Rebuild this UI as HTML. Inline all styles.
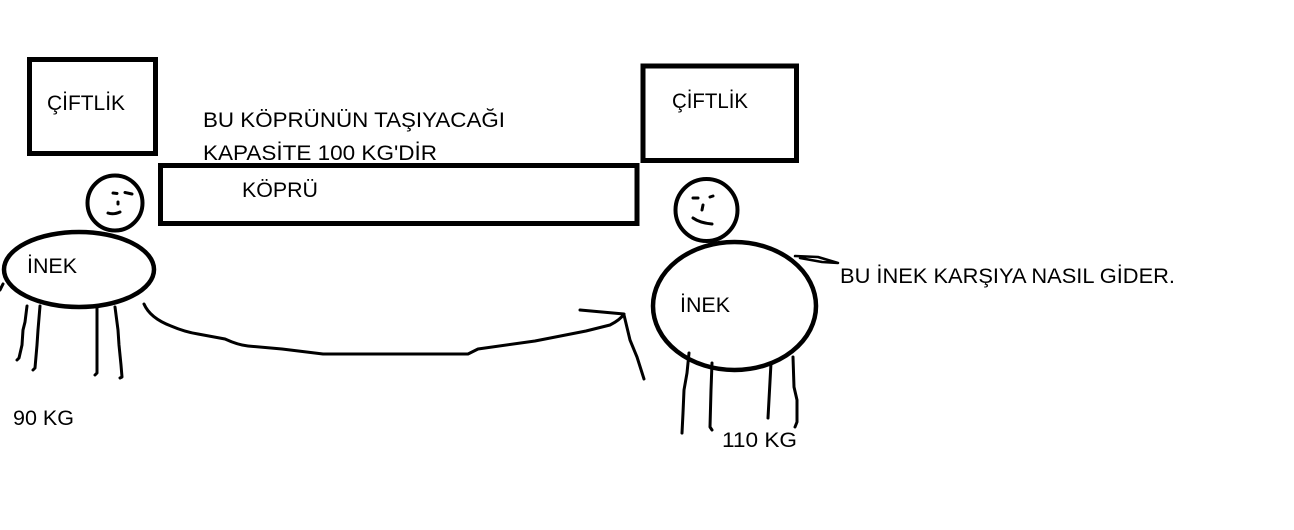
<!DOCTYPE html>
<html>
<head>
<meta charset="utf-8">
<style>
html,body{margin:0;padding:0;background:#fff;}
body{width:1294px;height:530px;overflow:hidden;}
svg{display:block;}
text{font-family:"Liberation Sans","DejaVu Sans",sans-serif;font-size:21px;fill:#000;}
</style>
</head>
<body>
<svg width="1294" height="530" viewBox="0 0 1294 530" xmlns="http://www.w3.org/2000/svg">
  <rect x="0" y="0" width="1294" height="530" fill="#fff"/>
  <g fill="none" stroke="#000" stroke-linecap="round" stroke-linejoin="round">
    <!-- left farm box -->
    <rect x="29.5" y="59.5" width="126" height="94" stroke-width="5" stroke-linecap="butt" stroke-linejoin="miter"/>
    <!-- bridge -->
    <rect x="160.5" y="165.5" width="476.5" height="58" stroke-width="5" stroke-linecap="butt" stroke-linejoin="miter"/>
    <!-- right farm box -->
    <rect x="643" y="66" width="153.5" height="94.5" stroke-width="5" stroke-linecap="butt" stroke-linejoin="miter"/>

    <!-- left head -->
    <circle cx="115" cy="203" r="27.5" stroke-width="4"/>
    <path d="M113 193 L117 193.5" stroke-width="3"/>
    <path d="M125 192.5 L132 194" stroke-width="3"/>
    <path d="M118 202 L118 204" stroke-width="3"/>
    <path d="M108 213 Q113 215 120 212" stroke-width="3"/>
    <!-- left body -->
    <ellipse cx="79" cy="269.5" rx="75" ry="37.5" stroke-width="4.5"/>
    <path d="M0 290 L3 284" stroke-width="3"/>
    <!-- left legs -->
    <path d="M27 306 L25 322 L23 330 L22 345 L19 358 L17 360" stroke-width="3"/>
    <path d="M40 306 L38 330 L37 345 L35 368 L33 370" stroke-width="3"/>
    <path d="M97 308 L97 373 L95 375" stroke-width="3"/>
    <path d="M115 307 L118 330 L119 345 L121 365 L122 377 L120 378" stroke-width="3"/>

    <!-- rope curve -->
    <path d="M144 304 Q150 318 171 326 Q185 332 198 334 L225 339 Q238 345 248 346 L282 349 L323 354 L468 354 L478 349 L535 341 L586 331 L610 325 Q620 320 624 314 L580 310" stroke-width="3"/>
    <path d="M624 315 L630 340 L637 357 L644 379" stroke-width="3"/>

    <!-- right head -->
    <circle cx="706.5" cy="210" r="31" stroke-width="4"/>
    <path d="M693 198 L698 198" stroke-width="3"/>
    <path d="M710 197 L713 196" stroke-width="3"/>
    <path d="M703 205 L702 210" stroke-width="3"/>
    <path d="M693 218 Q700 223 712 224" stroke-width="3"/>
    <!-- right body -->
    <ellipse cx="734.5" cy="306" rx="81.5" ry="64" stroke-width="4.5"/>
    <!-- pointer scribble -->
    <path d="M795 256 L818 257 L838 263 L822 262 L800 258" stroke-width="2.5"/>
    <!-- right legs -->
    <path d="M689 353 L687 373 L684 390 L683 413 L682 433" stroke-width="3"/>
    <path d="M712 363 L711 390 L710 427 L712 430" stroke-width="3"/>
    <path d="M771 363 L768 418" stroke-width="3"/>
    <path d="M793 357 L794 387 L797 400 L797 422 L795 427" stroke-width="3"/>
  </g>

  <!-- texts -->
  <text x="47" y="110" textLength="78" lengthAdjust="spacingAndGlyphs">ÇİFTLİK</text>
  <text x="672" y="108" textLength="76" lengthAdjust="spacingAndGlyphs">ÇİFTLİK</text>
  <text x="203" y="127" textLength="302" lengthAdjust="spacingAndGlyphs">BU KÖPRÜNÜN TAŞIYACAĞI</text>
  <text x="203" y="160" textLength="234" lengthAdjust="spacingAndGlyphs">KAPASİTE 100 KG'DİR</text>
  <text x="242" y="197" textLength="76" lengthAdjust="spacingAndGlyphs">KÖPRÜ</text>
  <text x="27" y="273" textLength="50" lengthAdjust="spacingAndGlyphs">İNEK</text>
  <text x="680" y="312" textLength="50" lengthAdjust="spacingAndGlyphs">İNEK</text>
  <text x="840" y="283" textLength="335" lengthAdjust="spacingAndGlyphs">BU İNEK KARŞIYA NASIL GİDER.</text>
  <text x="13" y="425" textLength="61" lengthAdjust="spacingAndGlyphs">90 KG</text>
  <text x="722" y="447" textLength="75" lengthAdjust="spacingAndGlyphs">110 KG</text>
</svg>
</body>
</html>
